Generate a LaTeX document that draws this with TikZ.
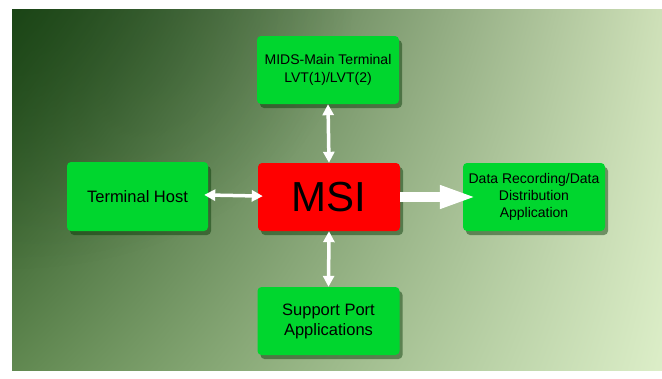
\documentclass[tikz,border=0pt]{standalone}
\usepackage{fontspec}
\setmainfont{Liberation Sans}
\usetikzlibrary{arrows.meta,shadings,fadings,shadows}
\definecolor{boxgreen}{RGB}{0,214,46}
\definecolor{boxred}{RGB}{255,0,0}
\definecolor{bgUL}{RGB}{24,66,20}
\definecolor{bgLL}{RGB}{96,136,80}
\definecolor{bgUR}{RGB}{206,224,184}
\definecolor{bgLR}{RGB}{220,238,200}
\definecolor{bgdark}{RGB}{30,72,24}
\tikzfading[name=softglow, inner color=transparent!0, outer color=transparent!100]
\begin{document}
\begin{tikzpicture}[x=1pt,y=-1pt,
  box/.style={fill=boxgreen, rounded corners=4pt, minimum width=142pt,
    minimum height=68pt, inner sep=0pt, align=center, text=black,
    drop shadow={shadow xshift=3pt, shadow yshift=-4pt, opacity=0.45, fill=black!80!green}},
  smalltext/.style={font=\fontsize{14}{18}\selectfont},
  bigtext/.style={font=\fontsize{16.5}{20}\selectfont},
  thinarrow/.style={draw=white, line width=3.5pt,
    arrows={Triangle[width=11pt,length=11pt]-Triangle[width=11pt,length=11pt]}},
  thickarrow/.style={draw=white, line width=10pt,
    arrows={-Triangle[width=21pt,length=37pt]}}
]
\useasboundingbox (0,0) rectangle (662,378);
\fill[white] (0,0) rectangle (662,378);
% background
\shade[upper left=bgUL, lower left=bgLL, upper right=bgUR, lower right=bgLR]
  (12,9) rectangle (662,370);
\begin{scope}
  \clip (12,9) rectangle (662,370);
  \fill[bgdark, opacity=0.45, path fading=softglow]
    (12,9) ellipse (340 and 260);
\end{scope}

% nodes
\node[box, fill=boxred, font=\fontsize{42}{42}\selectfont] (msi) at (329,197) {MSI};
\node[box, smalltext] (mids) at (328,70) {MIDS-Main Terminal\\LVT(1)/LVT(2)};
\node[box, bigtext, minimum width=141pt, minimum height=69pt] (host) at (137.5,196.5) {Terminal Host};
\node[box, smalltext, font=\fontsize{14}{17}\selectfont] (data) at (534,197) {Data Recording/Data\\Distribution\\Application};
\node[box, bigtext] (port) at (328.5,321) {Support Port\\Applications};

% connectors
\draw[thinarrow] (mids.south) -- (msi.north);
\draw[thinarrow, shorten <=-4pt, shorten >=-5pt] ([yshift=1.5pt]host.east) -- ([yshift=1pt]msi.west);
\draw[thinarrow] (msi.south) -- (port.north);
\draw[thickarrow, shorten >=-14pt] (msi.east) -- (data.west);
\end{tikzpicture}
\end{document}
